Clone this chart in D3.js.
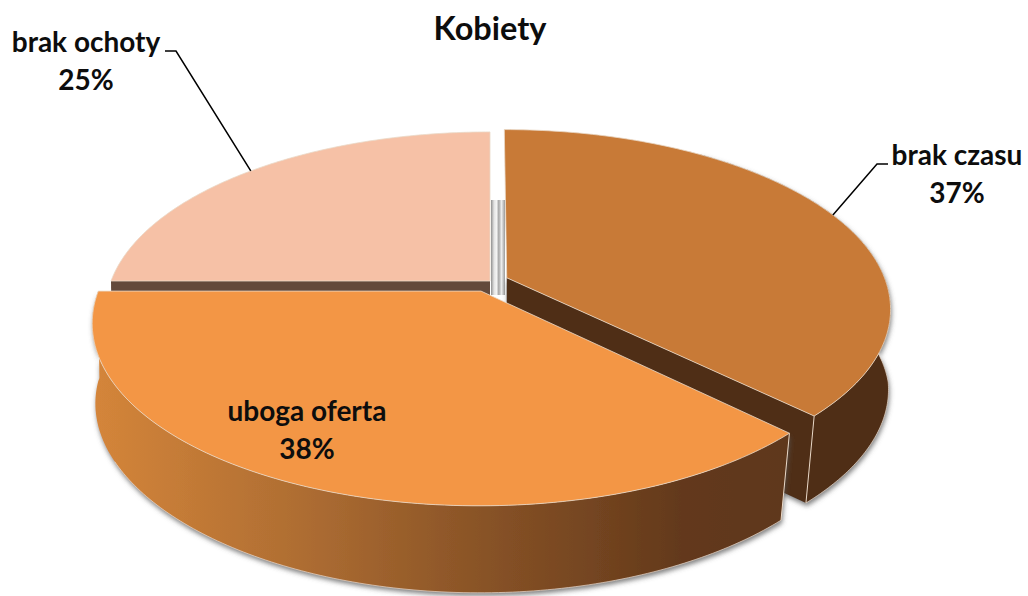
<!DOCTYPE html>
<html>
<head>
<meta charset="utf-8">
<script src="https://cdn.jsdelivr.net/npm/d3@7"></script>
<style>
    body { margin: 0; background: #fff; }
    svg { display: block; }
    text { font-family: Lato, "Open Sans", sans-serif; font-weight: 700; fill: #0d0d0d; text-anchor: middle; }
</style>
</head>
<body>
<div id="chart"></div>
<script>
const categories = ["brak czasu", "uboga oferta", "brak ochoty"];
const shares = [37.4, 37.6, 25];
const shareLabels = ["37%", "38%", "25%"];

const width = 1028, height = 596;

// how the tilted disc lands on the screen
const center = { x: 490, y: 281 };
const radiusX = 379, radiusY = 174.4, tilt = 0.17;
const depth = 87, shrinkRate = 0.037;

// per slice: pull out distance, colours, where the label sits
const explode = [0.048, 0.062, 0];
const topColors = ["#c87a37", "#f39645", "#f6c1a6"];
const labelPos = [
    { x: 957, y: 165 },
    { x: 307, y: 421 },
    { x: 86, y: 52 }
];

const project = (X, Y, lower) => {
    const f = 1 / (1 - tilt * Y);
    const sx = radiusX * X * f;
    const sy = radiusY * Y * f;
    // the bottom rim leans inward more the nearer it is to the viewer
    return lower
        ? [center.x + sx * (1 - shrinkRate * Math.max(Y, 0.08)), center.y + sy + depth]
        : [center.x + sx, center.y + sy];
};

const pie = d3.pie().sort(null).startAngle(0).endAngle(2 * Math.PI);
const slices = pie(shares).map((d, i) => {
    const mid = (d.startAngle + d.endAngle) / 2;
    return {
        ...d,
        i,
        mid,
        ox: Math.sin(mid) * explode[i],
        oy: -Math.cos(mid) * explode[i]
    };
});

const apex = (s, lower) => project(s.ox, s.oy, lower);
const rim = (s, a, lower) => project(Math.sin(a) + s.ox, -Math.cos(a) + s.oy, lower);
const rimPoints = (s, a0, a1, lower) =>
    d3.range(0, 121).map(k => rim(s, a0 + (a1 - a0) * k / 120, lower));

const line = d3.line();

const svg = d3.select("#chart")
    .append("svg")
    .attr("width", width)
    .attr("height", height)
    .attr("viewBox", `0 0 ${width} ${height}`);

const defs = svg.append("defs");

const shadow = defs.append("filter")
    .attr("id", "wall-shadow")
    .attr("x", "-10%").attr("y", "-10%")
    .attr("width", "120%").attr("height", "120%");
shadow.append("feDropShadow")
    .attr("dx", 1)
    .attr("dy", 3)
    .attr("stdDeviation", 2.5)
    .attr("flood-color", "#555")
    .attr("flood-opacity", 0.75);

const wallGradient = defs.append("linearGradient")
    .attr("id", "wall-orange")
    .attr("gradientUnits", "userSpaceOnUse")
    .attr("x1", 95).attr("x2", 785)
    .attr("y1", 0).attr("y2", 0);
[[0, "#d4853a"], [0.3, "#ae6d32"], [0.55, "#8a5427"], [0.85, "#63391b"], [1, "#5f381a"]].forEach(s => {
    wallGradient.append("stop").attr("offset", s[0]).attr("stop-color", s[1]);
});

const coreGradient = defs.append("linearGradient").attr("id", "core");
[[0, "#8f8f8f"], [0.22, "#e4e4e4"], [0.4, "#f4f4f4"], [0.55, "#a6a6a6"], [0.75, "#ececec"], [1, "#9a9a9a"]].forEach(s => {
    coreGradient.append("stop").attr("offset", s[0]).attr("stop-color", s[1]);
});

const rimStroke = "#ead9c8";

const drawWall = (pts, fill) => svg.append("path")
    .attr("d", line(pts) + "Z")
    .attr("fill", fill);

const drawTop = s => svg.append("path")
    .attr("d", line([apex(s), ...rimPoints(s, s.startAngle, s.endAngle)]) + "Z")
    .attr("fill", topColors[s.i])
    .attr("stroke", rimStroke)
    .attr("stroke-width", 0.8);

const [czas, oferta, ochota] = slices;

// back slice: only its front cut face shows
const leftEnd = ochota.startAngle;
drawWall([apex(ochota), rim(ochota, leftEnd), rim(ochota, leftEnd, true), apex(ochota, true)], "#63493b");
drawTop(ochota);

// the grey sliver in the middle
svg.append("rect")
    .attr("x", center.x + 1)
    .attr("y", center.y - 81)
    .attr("width", 14)
    .attr("height", 95)
    .attr("fill", "url(#core)");

// right slice
const czasEnd = czas.endAngle;
const czasOuter = [
    ...rimPoints(czas, Math.PI * 0.2, czasEnd),
    ...rimPoints(czas, Math.PI * 0.2, czasEnd, true).reverse()
];
const czasCut = [apex(czas), rim(czas, czasEnd), rim(czas, czasEnd, true), apex(czas, true)];
svg.append("g").attr("filter", "url(#wall-shadow)")
    .append("path")
    .attr("d", line(czasOuter) + "Z" + line(czasCut) + "Z")
    .attr("fill", "#4f2f15");
svg.append("path")
    .attr("d", line([rim(czas, czasEnd), rim(czas, czasEnd, true)]))
    .attr("stroke", rimStroke)
    .attr("stroke-width", 1)
    .attr("fill", "none");
svg.append("path")
    .attr("d", line(rimPoints(czas, Math.PI * 0.3, czasEnd, true)))
    .attr("stroke", rimStroke)
    .attr("stroke-width", 0.7)
    .attr("fill", "none");
drawTop(czas);

// front slice
const ofertaOuter = [
    ...rimPoints(oferta, oferta.startAngle, oferta.endAngle),
    ...rimPoints(oferta, oferta.startAngle, oferta.endAngle, true).reverse()
];
svg.append("g").attr("filter", "url(#wall-shadow)")
    .append("path")
    .attr("d", line(ofertaOuter) + "Z")
    .attr("fill", "url(#wall-orange)");
svg.append("path")
    .attr("d", line(rimPoints(oferta, oferta.startAngle, oferta.endAngle - 0.45, true)))
    .attr("stroke", rimStroke)
    .attr("stroke-width", 0.7)
    .attr("fill", "none");
svg.append("path")
    .attr("d", line([rim(oferta, oferta.startAngle), rim(oferta, oferta.startAngle, true)]))
    .attr("stroke", rimStroke)
    .attr("stroke-width", 1)
    .attr("fill", "none");
drawTop(oferta);

// leader lines, from the rim at the slice middle to the label
const leaders = [
    { s: czas, elbow: [877, 164], end: [888, 164] },
    { s: ochota, elbow: [176, 51], end: [165, 51] }
];
leaders.forEach(l => {
    svg.append("path")
        .attr("d", line([rim(l.s, l.s.mid), l.elbow, l.end]))
        .attr("fill", "none")
        .attr("stroke", "#000")
        .attr("stroke-width", 1.5);
});

svg.append("text")
    .attr("x", 490)
    .attr("y", 40)
    .attr("font-size", 32.5)
    .text("Kobiety");

slices.forEach(s => {
    svg.append("text")
        .attr("x", labelPos[s.i].x)
        .attr("y", labelPos[s.i].y)
        .attr("font-size", 28)
        .text(categories[s.i]);
    svg.append("text")
        .attr("x", labelPos[s.i].x)
        .attr("y", labelPos[s.i].y + 38)
        .attr("font-size", 28)
        .text(shareLabels[s.i]);
});
</script>
</body>
</html>
